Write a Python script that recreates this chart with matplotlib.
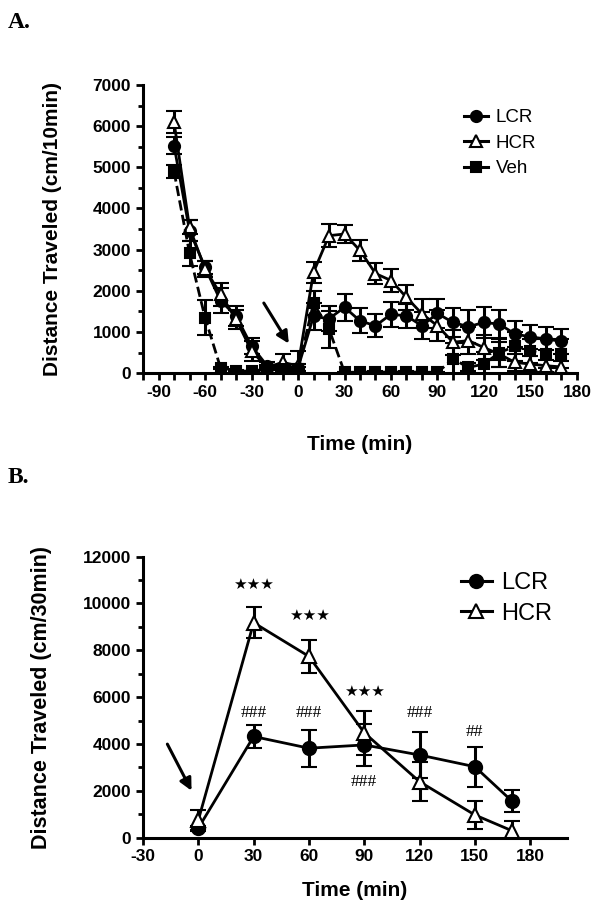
import numpy as np
import matplotlib
matplotlib.use('Agg')
import matplotlib.pyplot as plt
from matplotlib.ticker import MultipleLocator
from matplotlib.lines import Line2D

plt.rcParams['font.family'] = ['Liberation Sans', 'DejaVu Sans']
plt.rcParams['font.weight'] = 'bold'
plt.rcParams['axes.unicode_minus'] = False

# Panel A: 10-min bins
time_a = [-80, -70, -60, -50, -40, -30, -20, -10, 0, 10, 20, 30, 40, 50, 60,
          70, 80, 90, 100, 110, 120, 130, 140, 150, 160, 170]
lcr_a = [5530, 3460, 2570, 1760, 1390, 660, 180, 140, 130, 1380, 1320, 1600,
         1270, 1150, 1430, 1390, 1150, 1450, 1230, 1130, 1230, 1190, 950, 880,
         830, 770]
lcr_a_err = [200, 250, 150, 300, 250, 200, 80, 60, 80, 330, 300, 330, 300,
             280, 300, 300, 330, 350, 350, 400, 380, 350, 320, 300, 280, 300]
hcr_a = [6100, 3540, 2530, 1920, 1310, 540, 140, 260, 180, 2450, 3340, 3380,
         2980, 2420, 2250, 1840, 1440, 1150, 750, 790, 620, 460, 260, 220,
         180, 150]
hcr_a_err = [260, 170, 200, 280, 230, 250, 60, 210, 360, 250, 280, 230, 250,
             250, 280, 300, 350, 380, 300, 330, 300, 300, 200, 200, 150, 150]
veh_a = [4900, 2910, 1350, 130, 60, 40, 110, 110, 100, 1700, 1070, 20, 20, 30,
         20, 30, 20, 20, 340, 140, 220, 500, 650, 540, 470, 470]
veh_a_err = [150, 300, 420, 30, 20, 20, 40, 40, 40, 300, 450, 10, 10, 10, 10,
             10, 10, 10, 380, 100, 300, 350, 350, 300, 350, 350]

# Panel B: 30-min bins
time_b = [0, 30, 60, 90, 120, 150, 170]
lcr_b = [410, 4320, 3820, 3960, 3530, 3030, 1570]
lcr_b_err = [100, 500, 790, 880, 1000, 850, 470]
hcr_b = [750, 9180, 7740, 4480, 2390, 970, 300]
hcr_b_err = [450, 650, 720, 930, 820, 610, 400]

stars_b = [(30, 10800), (60, 9470), (90, 6240)]
hashes_b = [(30, 5330, '###'), (60, 5330, '###'), (90, 2390, '###'),
            (120, 5330, '###'), (150, 4530, '##')]


def series(ax, x, y, err, marker, mfc, ls, ms, label):
    ax.errorbar(x, y, yerr=err, fmt=marker, ls=ls, color='black', mfc=mfc,
                mec='black', mew=1.5, ms=ms, lw=2, elinewidth=2.2,
                capsize=5.5, capthick=2.2, label=label, zorder=3)


def handle(marker, mfc, ms):
    return Line2D([], [], color='black', lw=2.2, marker=marker, mfc=mfc,
                  mec='black', mew=1.5, ms=ms)


def style(ax):
    for s in ['top', 'right']:
        ax.spines[s].set_visible(False)
    for s in ['left', 'bottom']:
        ax.spines[s].set_linewidth(2.2)
    ax.tick_params(which='both', width=2, length=5, labelsize=12.5)
    ax.tick_params(which='minor', length=3.5)
    for lab in ax.get_xticklabels() + ax.get_yticklabels():
        lab.set_fontweight('bold')


fig = plt.figure(figsize=(6.01, 9.19), dpi=100)

# ---- A ----
ax1 = fig.add_axes([0.238, 0.594, 0.722, 0.3135])
series(ax1, time_a, lcr_a, lcr_a_err, 'o', 'black', '-', 8, 'LCR')
series(ax1, time_a, hcr_a, hcr_a_err, '^', 'white', '-', 8, 'HCR')
series(ax1, time_a, veh_a, veh_a_err, 's', 'black', '--', 7, 'Veh')
ax1.set_xlim(-100, 180)
ax1.set_ylim(0, 7000)
ax1.set_xticks(range(-90, 181, 30))
ax1.xaxis.set_minor_locator(MultipleLocator(10))
ax1.yaxis.set_major_locator(MultipleLocator(1000))
ax1.yaxis.set_minor_locator(MultipleLocator(500))
style(ax1)
ax1.tick_params(axis='x', which='minor', length=5)
ax1.set_xlabel('Time (min)', fontsize=15, fontweight='bold', labelpad=25)
ax1.set_ylabel('Distance Traveled (cm/10min)', fontsize=15,
               fontweight='bold', labelpad=22)
ax1.annotate('', xy=(-5, 660), xytext=(-23, 1760),
             arrowprops=dict(arrowstyle='-|>', color='black', lw=2.2,
                             mutation_scale=18))
ax1.legend([handle('o', 'black', 8), handle('^', 'white', 8),
            handle('s', 'black', 7)], ['LCR', 'HCR', 'Veh'],
           loc='upper left', bbox_to_anchor=(0.7, 0.975), frameon=False,
           handlelength=1.3, handletextpad=0.4, labelspacing=0.45,
           prop={'weight': 'normal', 'size': 13.5})
fig.text(0.013, 0.975, 'A.', family='Liberation Serif', fontsize=17,
         fontweight='bold', va='center')

# ---- B ----
ax2 = fig.add_axes([0.238, 0.0885, 0.7055, 0.3058])
series(ax2, time_b, lcr_b, lcr_b_err, 'o', 'black', '-', 9.5, 'LCR')
series(ax2, time_b, hcr_b, hcr_b_err, '^', 'white', '-', 9.5, 'HCR')
ax2.set_xlim(-30, 200)
ax2.set_ylim(0, 12000)
ax2.set_xticks(range(-30, 181, 30))
ax2.yaxis.set_major_locator(MultipleLocator(2000))
ax2.yaxis.set_minor_locator(MultipleLocator(1000))
style(ax2)
ax2.set_xlabel('Time (min)', fontsize=15, fontweight='bold', labelpad=12)
ax2.set_ylabel('Distance Traveled (cm/30min)', fontsize=15.5,
               fontweight='bold', labelpad=22)
ax2.annotate('', xy=(-3, 1900), xytext=(-17.5, 4100),
             arrowprops=dict(arrowstyle='-|>', color='black', lw=2.2,
                             mutation_scale=18))
for x, y in stars_b:
    ax2.text(x, y, '★★★', ha='center', va='center', fontsize=11,
             family=['DejaVu Sans'], fontweight='normal')
for x, y, s in hashes_b:
    ax2.text(x, y, s, ha='center', va='center', fontsize=12.5,
             family=['Liberation Serif'], fontweight='normal')
ax2.legend([handle('o', 'black', 9.5), handle('^', 'white', 9.5)],
           ['LCR', 'HCR'], loc='upper left', bbox_to_anchor=(0.7, 1.02),
           frameon=False, handlelength=1.3, handletextpad=0.4,
           labelspacing=0.35, prop={'weight': 'normal', 'size': 17})
fig.text(0.013, 0.48, 'B.', family='Liberation Serif', fontsize=17,
         fontweight='bold', va='center')

fig.savefig('out.png', dpi=100)
